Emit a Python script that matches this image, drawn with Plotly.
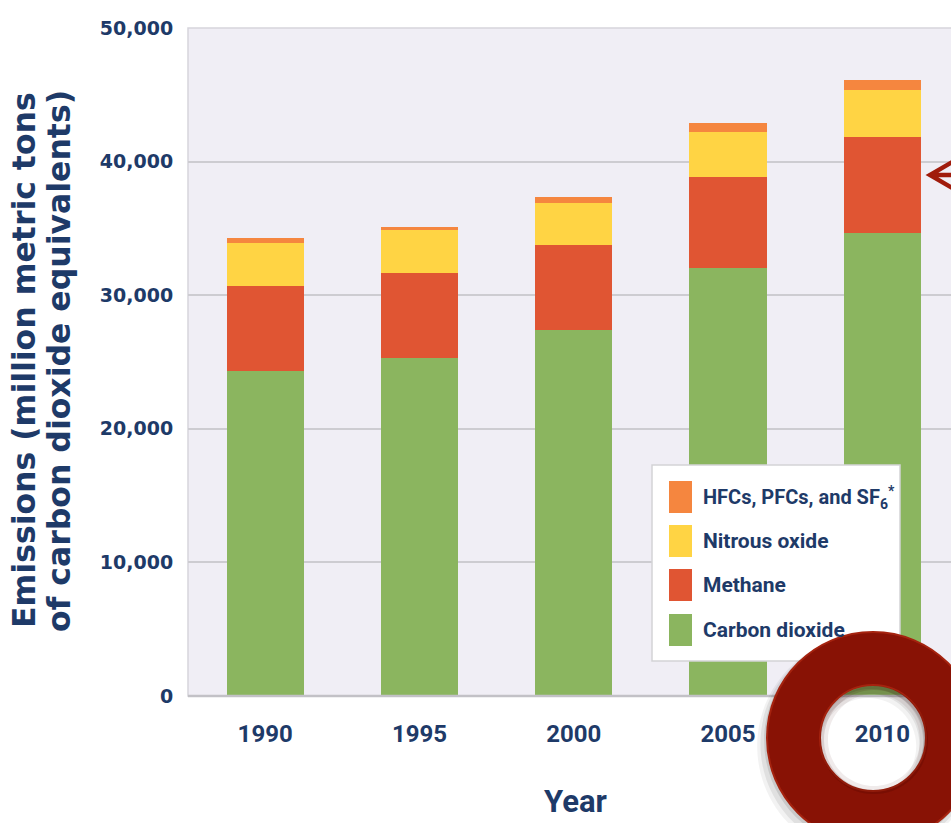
import plotly.graph_objects as go

# Global greenhouse gas emissions by gas (million metric tons CO2 equivalents)
years = ["1990", "1995", "2000", "2005", "2010"]
carbon_dioxide = [24300, 25330, 27375, 32050, 34650]
methane = [6375, 6320, 6375, 6825, 7175]
nitrous_oxide = [3225, 3250, 3175, 3375, 3500]
fluorinated = [375, 225, 425, 650, 775]

series_names = ["Carbon dioxide", "Methane", "Nitrous oxide",
                "HFCs, PFCs, and SF<sub>6</sub><sup>*</sup>"]
series_values = [carbon_dioxide, methane, nitrous_oxide, fluorinated]
series_colors = ["#8BB55F", "#E05533", "#FFD444", "#F5863F"]

y_ticks = [0, 10000, 20000, 30000, 40000, 50000]
y_tick_text = ["0", "10,000", "20,000", "30,000", "40,000", "50,000"]

NAVY = "#1E3A68"
NARROW = "Liberation Sans Narrow, Roboto, sans-serif"

# figure geometry (pixels)
FIG_W, FIG_H = 951, 823
M_L, M_R, M_T, M_B = 188, 0, 28, 127
PW, PH = FIG_W - M_L - M_R, FIG_H - M_T - M_B


def to_paper(px, py):
    return (px - M_L) / PW, (FIG_H - M_B - py) / PH


def circle_path(cx, cy, r, reverse=False):
    k = 0.5523 * r
    if not reverse:
        segs = [
            ((cx + r, cy + k), (cx + k, cy + r), (cx, cy + r)),
            ((cx - k, cy + r), (cx - r, cy + k), (cx - r, cy)),
            ((cx - r, cy - k), (cx - k, cy - r), (cx, cy - r)),
            ((cx + k, cy - r), (cx + r, cy - k), (cx + r, cy)),
        ]
    else:
        segs = [
            ((cx + r, cy - k), (cx + k, cy - r), (cx, cy - r)),
            ((cx - k, cy - r), (cx - r, cy - k), (cx - r, cy)),
            ((cx - r, cy + k), (cx - k, cy + r), (cx, cy + r)),
            ((cx + k, cy + r), (cx + r, cy + k), (cx + r, cy)),
        ]
    sx, sy = to_paper(cx + r, cy)
    d = f"M{sx:.5f},{sy:.5f}"
    for seg in segs:
        pts = [to_paper(*p) for p in seg]
        d += " C" + " ".join(f"{x:.5f},{y:.5f}" for x, y in pts)
    return d + " Z"


def ring_path(cx, cy, r_out, r_in):
    return circle_path(cx, cy, r_out) + " " + circle_path(cx, cy, r_in, reverse=True)


fig = go.Figure()
for name, vals, color in zip(series_names, series_values, series_colors):
    fig.add_trace(go.Bar(x=years, y=vals, name=name, marker_color=color,
                         marker_line_width=0, showlegend=False))

shapes = []
# plot frame (top and left edges)
shapes.append(dict(type="rect", xref="paper", yref="paper", x0=0, y0=0, x1=1.05, y1=1,
                   line=dict(color="#D6D5DB", width=1.5), layer="below"))
# baseline
shapes.append(dict(type="line", xref="paper", yref="paper", x0=0, x1=1, y0=0, y1=0,
                   line=dict(color="#C2C1C6", width=2.5), layer="above"))

# legend box
lx0, ly0 = to_paper(652, 465)
lx1, ly1 = to_paper(900, 661)
shapes.append(dict(type="rect", xref="paper", yref="paper", x0=lx0, y0=ly1, x1=lx1, y1=ly0,
                   fillcolor="white", line=dict(color="#D3D3D6", width=1.5)))
annotations = []
legend_rows_y = [497, 541, 585, 630]
legend_sizes = [20, 21, 21, 21]
for i, (name, color) in enumerate(zip(series_names[::-1], series_colors[::-1])):
    cy = legend_rows_y[i]
    sx0, sy0 = to_paper(669, cy - 16)
    sx1, sy1 = to_paper(692, cy + 16)
    shapes.append(dict(type="rect", xref="paper", yref="paper", x0=sx0, y0=sy1, x1=sx1, y1=sy0,
                       fillcolor=color, line=dict(width=0)))
    tx, ty = to_paper(701, cy)
    annotations.append(dict(xref="paper", yref="paper", x=tx, y=ty, text=f"<b>{name}</b>",
                            showarrow=False, xanchor="left", yanchor="middle",
                            font=dict(family=NARROW, size=legend_sizes[i], color=NAVY)))

# arrow pointing at the 2010 bar
a_tip = to_paper(930, 175)
a_up = to_paper(954, 161)
a_dn = to_paper(954, 189)
a_end = to_paper(956, 175)
shapes.append(dict(type="path", xref="paper", yref="paper",
                   path=f"M{a_up[0]:.5f},{a_up[1]:.5f} L{a_tip[0]:.5f},{a_tip[1]:.5f} "
                        f"L{a_dn[0]:.5f},{a_dn[1]:.5f} M{a_tip[0]:.5f},{a_tip[1]:.5f} "
                        f"L{a_end[0]:.5f},{a_end[1]:.5f}",
                   line=dict(color="#A01B0C", width=4.5)))

# highlight ring around the 2010 label, with soft shadow
RCX, RCY, R_OUT, R_IN = 873, 738, 106, 53
for off, grow, alpha in [(8, 5, 0.05), (6, 3, 0.07), (3, 1, 0.10)]:
    shapes.append(dict(type="path", xref="paper", yref="paper",
                       path=ring_path(RCX - off * 0.6, RCY + off, R_OUT + grow, R_IN - grow),
                       fillcolor=f"rgba(0,0,0,{alpha})", line=dict(width=0)))
shapes.append(dict(type="path", xref="paper", yref="paper",
                   path=ring_path(RCX, RCY, R_OUT, R_IN),
                   fillcolor="#881205", line=dict(color="#A5230F", width=2)))
# inner shading along the hole's edge
for w, alpha in [(7, 0.08), (3, 0.12)]:
    shapes.append(dict(type="path", xref="paper", yref="paper",
                       path=ring_path(RCX + 1, RCY + 2, R_IN + 1, R_IN - w),
                       fillcolor=f"rgba(60,0,0,{alpha})", line=dict(width=0)))

# axis titles
title_font = dict(family="DejaVu Sans", size=31.5, color=NAVY, weight="bold")
t1x, t1y = to_paper(24, 360)
t2x, t2y = to_paper(59, 361)
annotations.append(dict(xref="paper", yref="paper", x=t1x, y=t1y,
                        text="Emissions (million metric tons", textangle=-90, showarrow=False,
                        xanchor="center", yanchor="middle", font=title_font))
annotations.append(dict(xref="paper", yref="paper", x=t2x, y=t2y,
                        text="of carbon dioxide equivalents)", textangle=-90, showarrow=False,
                        xanchor="center", yanchor="middle", font=title_font))
yx, yy = to_paper(575, 801)
annotations.append(dict(xref="paper", yref="paper", x=yx, y=yy, text="<b>Year</b>",
                        showarrow=False, xanchor="center", yanchor="middle",
                        font=dict(family=NARROW, size=31, color=NAVY)))

fig.update_layout(
    width=FIG_W, height=FIG_H,
    margin=dict(l=M_L, r=M_R, t=M_T, b=M_B, pad=0),
    barmode="stack", bargap=0.5,
    paper_bgcolor="white", plot_bgcolor="#F0EEF5",
    shapes=shapes, annotations=annotations,
    xaxis=dict(type="category", range=[-0.5, -0.5 + PW / 154.3], showgrid=False,
               zeroline=False, showline=False, ticks="outside", ticklen=0,
               tickcolor="rgba(0,0,0,0)", ticklabelstandoff=16,
               tickfont=dict(family=NARROW, size=24, color=NAVY, weight="bold")),
    yaxis=dict(range=[0, 50000], tickvals=y_ticks, ticktext=y_tick_text,
               showgrid=True, gridcolor="#CDCCD1", gridwidth=2, zeroline=False,
               showline=False, ticks="outside", ticklen=0, tickcolor="rgba(0,0,0,0)",
               ticklabelstandoff=10,
               tickfont=dict(family="DejaVu Sans", size=19, color=NAVY, weight="bold")),
    font=dict(family="DejaVu Sans", color=NAVY),
)

fig.write_html("out.html")
